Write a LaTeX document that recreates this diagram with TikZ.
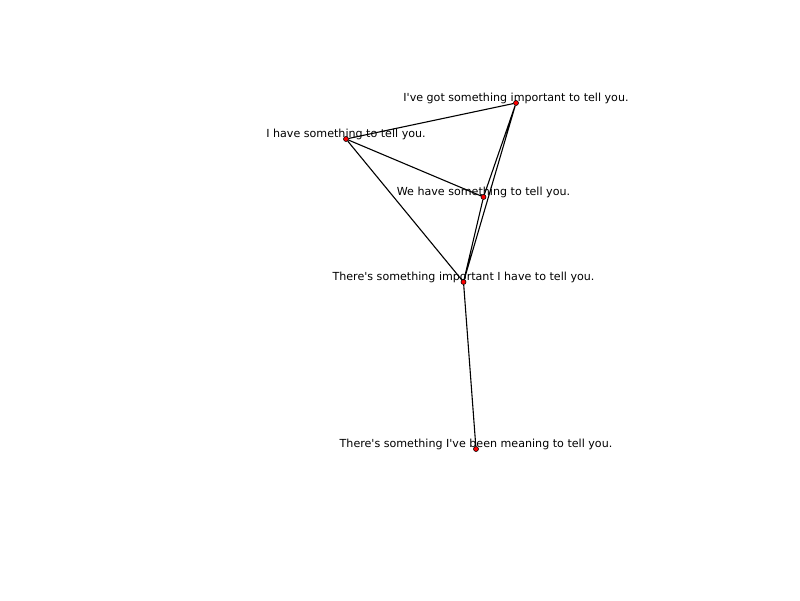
\documentclass[tikz,border=0pt]{standalone}
\usepackage{fontspec}
\setmainfont{DejaVu Sans}[Ligatures=TeXOff]
\tikzset{
  sent/.style={circle,draw=black,fill=red,inner sep=0pt,minimum size=5pt,line width=0.6pt},
  sentlabel/.style={font=\fontsize{11.1}{13}\selectfont,inner sep=0pt},
  link/.style={line width=1.1pt}
}
\begin{document}
\begin{tikzpicture}[x=1pt,y=-1pt]
  \useasboundingbox (0,0) rectangle (800,600);
  % sentences
  \node[sent] (Got) at (516,103) {};
  \node[sent] (Have) at (346,139) {};
  \node[sent] (We) at (483.5,197) {};
  \node[sent] (Imp) at (463.5,282) {};
  \node[sent] (Mean) at (476,449) {};
  % links
  \draw[link] (Have)--(Got) (Have)--(We) (Have)--(Imp);
  \draw[link] (Got)--(We) (Got)--(Imp) (We)--(Imp);
  \draw[link] (Imp)--(Mean);
  % texts
  \node[sentlabel] (GotTxt) at ([yshift=4.5pt]Got) {I've got something important to tell you.};
  \node[sentlabel] (HaveTxt) at ([yshift=4.5pt]Have) {I have something to tell you.};
  \node[sentlabel] (WeTxt) at ([yshift=4.5pt]We) {We have something to tell you.};
  \node[sentlabel] (ImpTxt) at ([yshift=4.5pt]Imp) {There's something important I have to tell you.};
  \node[sentlabel] (MeanTxt) at ([yshift=4.5pt]Mean) {There's something I've been meaning to tell you.};
\end{tikzpicture}
\end{document}
